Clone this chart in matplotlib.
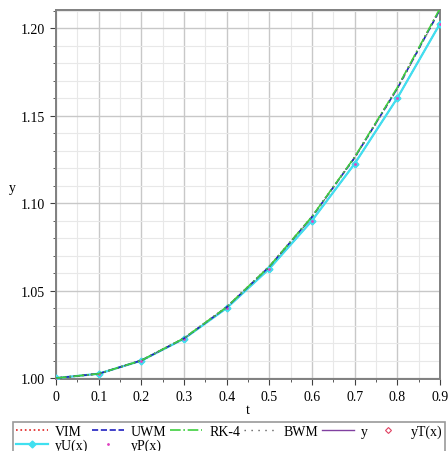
import numpy as np
import matplotlib.pyplot as plt
from matplotlib.ticker import MultipleLocator, FixedLocator

plt.rcParams['font.family'] = ['Liberation Serif', 'DejaVu Serif']

# hodnoty
t = [0.0, 0.1, 0.2, 0.3, 0.4, 0.5, 0.6, 0.7, 0.8, 0.9]
y_vim = [1.0, 1.0025, 1.0101, 1.0228, 1.0406, 1.0638, 1.0922, 1.1262, 1.1658, 1.2110]
y_uwm = [1.0, 1.0025, 1.0101, 1.0227, 1.0405, 1.0637, 1.0921, 1.1260, 1.1655, 1.2106]
y_rk4 = [1.0, 1.0025, 1.0101, 1.0228, 1.0406, 1.0638, 1.0923, 1.1263, 1.1660, 1.2112]
y_bwm = [1.0, 1.0025, 1.0101, 1.0227, 1.0405, 1.0636, 1.0920, 1.1258, 1.1652, 1.2102]
y_ex = [1.0, 1.0025, 1.0100, 1.0225, 1.0400, 1.0625, 1.0900, 1.1225, 1.1600, 1.2025]
y_t = [1.0, 1.0025, 1.0100, 1.0225, 1.0400, 1.0625, 1.0900, 1.1225, 1.1600, 1.2025]
y_u = [1.0, 1.0025, 1.0100, 1.0225, 1.0400, 1.0625, 1.0900, 1.1225, 1.1600, 1.2025]
y_p = [1.0, 1.0025, 1.0100, 1.0225, 1.0400, 1.0625, 1.0900, 1.1225, 1.1600, 1.2025]

xticks = [0, 0.1, 0.2, 0.3, 0.4, 0.5, 0.6, 0.7, 0.8, 0.9]
xlabels = ["0", "0.1", "0.2", "0.3", "0.4", "0.5", "0.6", "0.7", "0.8", "0.9"]
yticks = [1.00, 1.05, 1.10, 1.15, 1.20]
ylabels = ["1.00", "1.05", "1.10", "1.15", "1.20"]

fig = plt.figure(figsize=(4.48, 4.52), dpi=100)
ax = fig.add_axes([56 / 448, 1 - 380 / 452, 384 / 448, 369 / 452])

ax.plot(t, y_ex, color="#8040a0", linewidth=1.0, label="y", zorder=2)
ax.plot(t, y_t, color="#e04060", linestyle="none", marker="D", markersize=3,
        markerfacecolor="none", markeredgewidth=0.8, label="yT(x)", zorder=2)
ax.plot(t, y_u, color="#40e0f0", linewidth=1.6, marker="D", markersize=3.5, label="yU(x)", zorder=3)
ax.plot(t, y_p, color="#e040c0", linestyle="none", marker=".", markersize=2, label="yP(x)", zorder=3)
ax.plot(t, y_bwm, color="#606060", linestyle=(0, (1, 4)), linewidth=1.0, label="BWM", zorder=4)
ax.plot(t, y_vim, color="#e02020", linestyle=":", linewidth=1.2, label="VIM", zorder=4)
ax.plot(t, y_uwm, color="#2020c0", linestyle="--", linewidth=1.2, label="UWM", zorder=4)
ax.plot(t, y_rk4, color="#40d040", linestyle="-.", linewidth=1.2, label="RK-4", zorder=4)

ax.set_xlim(0, 0.9)
ax.set_ylim(0.9995, 1.2103)
ax.xaxis.set_major_locator(FixedLocator(xticks))
ax.set_xticklabels(xlabels)
ax.yaxis.set_major_locator(FixedLocator(yticks))
ax.set_yticklabels(ylabels)
ax.xaxis.set_minor_locator(MultipleLocator(0.05))
ax.yaxis.set_minor_locator(MultipleLocator(0.01))
ax.grid(which="major", color="#c8c8c8", linewidth=1.0)
ax.grid(which="minor", color="#e8e8e8", linewidth=0.8)
ax.set_axisbelow(True)
ax.tick_params(which="major", direction="out", length=4, color="#404040", labelsize=10, pad=4)
ax.tick_params(which="minor", direction="out", length=2.5, color="#404040")
for s in ax.spines.values():
    s.set_color("#808080")
    s.set_linewidth(1.4)

ax.set_xlabel("t", fontsize=10, labelpad=0)
ax.set_ylabel("y", fontsize=10, rotation=0, labelpad=6)

hl = {h.get_label(): h for h in ax.get_lines()}
order = ["VIM", "yU(x)", "UWM", "yP(x)", "RK-4", "BWM", "y", "yT(x)"]
leg = fig.legend([hl[k] for k in order], order, loc="upper left",
                 bbox_to_anchor=(13 / 448, 1 - 423 / 452, 432 / 448, 0), mode="expand",
                 borderaxespad=0, ncol=6, fontsize=10, frameon=True, fancybox=False,
                 borderpad=0.2, handlelength=2.3, handletextpad=0.5, columnspacing=0.8,
                 labelspacing=0.05)
leg.get_frame().set_edgecolor("#808080")
leg.get_frame().set_linewidth(1.2)

fig.savefig("out.png", dpi=100)
